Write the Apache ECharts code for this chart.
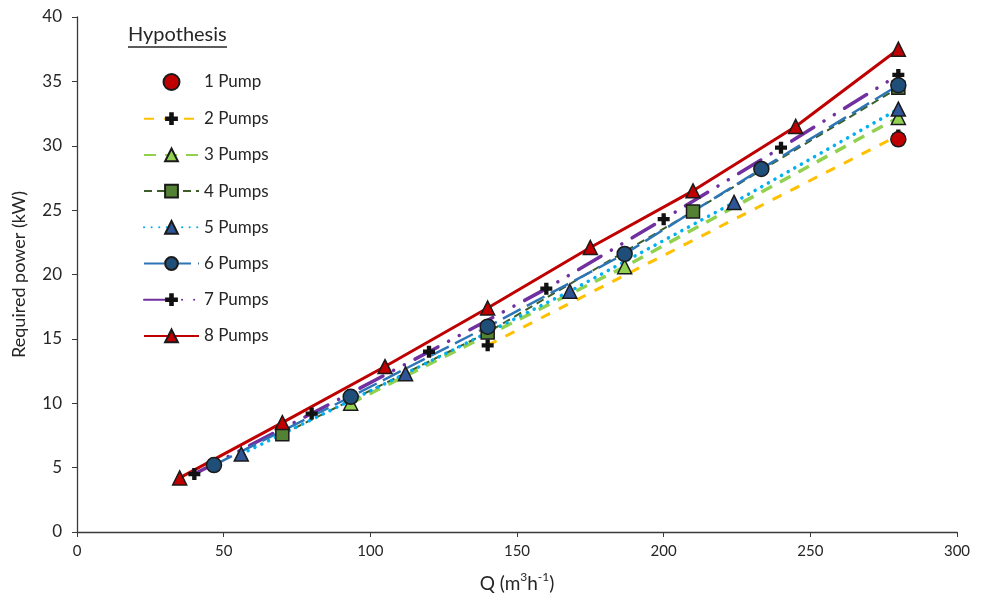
<!DOCTYPE html>
<html>
<head>
<meta charset="utf-8">
<script src="https://cdn.jsdelivr.net/npm/echarts@6/dist/echarts.min.js"></script>
<style>html,body{margin:0;padding:0;background:#fff}#c{width:986px;height:602px}</style>
</head>
<body>
<div id="c"></div>
<script>
// ---- data ----
const seriesNames = ['1 Pump','2 Pumps','3 Pumps','4 Pumps','5 Pumps','6 Pumps','7 Pumps','8 Pumps'];
const q1 = [280];                                   const p1 = [30.5];
const q2 = [140, 280];                              const p2 = [14.5, 30.8];
const q3 = [93.3, 186.7, 280];                      const p3 = [10.0, 20.6, 32.2];
const q4 = [70, 140, 210, 280];                     const p4 = [7.6, 15.5, 24.9, 34.5];
const q5 = [56, 112, 168, 224, 280];                const p5 = [6.05, 12.3, 18.7, 25.6, 32.85];
const q6 = [46.7, 93.3, 140, 186.7, 233.3, 280];    const p6 = [5.2, 10.5, 15.95, 21.6, 28.2, 34.7];
const q7 = [40, 80, 120, 160, 200, 240, 280];       const p7 = [4.5, 9.2, 14.0, 18.9, 24.3, 29.85, 35.5];
const q8 = [35, 70, 105, 140, 175, 210, 245, 280];  const p8 = [4.2, 8.5, 12.85, 17.4, 22.1, 26.5, 31.5, 37.5];
const xTicks = [0, 50, 100, 150, 200, 250, 300];
const yTicks = [0, 5, 10, 15, 20, 25, 30, 35, 40];

const FONT = 'Lato';
const TXT = '#262626';
const BORDER = '#1a1a1a';
const PLUS = 'path://M3.2,0H6.8V3.2H10V6.8H6.8V10H3.2V6.8H0V3.2H3.2Z';

function pts(q, p) { return q.map((v, i) => [v, p[i]]); }

function lineSeries(name, q, p, lineStyle, symbol, size, fill, border) {
  return {
    name, type: 'line', data: pts(q, p),
    symbol, symbolSize: size, showAllSymbol: true,
    lineStyle: lineStyle,
    itemStyle: { color: fill, borderColor: border, borderWidth: border ? 1.5 : 0, opacity: 1 },
    emphasis: { disabled: true }, animation: false
  };
}

const s1 = {
  name: seriesNames[0], type: 'scatter', data: pts(q1, p1), symbol: 'circle', symbolSize: 15,
  itemStyle: { color: '#C00000', borderColor: BORDER, borderWidth: 1.5, opacity: 1 }, z: 5, animation: false
};
const s2 = lineSeries(seriesNames[1], q2, p2, { color: '#FFC000', width: 3, type: [10, 10] }, PLUS, 12, '#111', null);
const s3 = lineSeries(seriesNames[2], q3, p3, { color: '#92D050', width: 3.5, type: [12, 9] }, 'triangle', 14, '#92D050', BORDER);
const s4 = lineSeries(seriesNames[3], q4, p4, { color: '#3B5E2B', width: 2, type: [8, 5] }, 'rect', 13, '#548235', BORDER);
const s5 = lineSeries(seriesNames[4], q5, p5, { color: '#00B0F0', width: 3.5, type: [0.1, 7.5], cap: 'round' }, 'triangle', 14, '#2F5597', BORDER);
const s6 = lineSeries(seriesNames[5], q6, p6, { color: '#2E75B6', width: 2.5, type: [20, 7] }, 'circle', 15, '#1F4E79', BORDER);
const s7 = lineSeries(seriesNames[6], q7, p7, { color: '#7030A0', width: 3.5, type: [26, 12, 0.1, 12, 0.1, 12], cap: 'round' }, PLUS, 12, '#111', null);
const s8 = lineSeries(seriesNames[7], q8, p8, { color: '#C00000', width: 3 }, 'triangle', 14, '#C00000', BORDER);

const chart = echarts.init(document.getElementById('c'), null, { renderer: 'canvas' });
chart.setOption({
  animation: false,
  textStyle: { fontFamily: FONT },
  grid: { left: 77, right: 29, top: 17, bottom: 70, containLabel: false },
  xAxis: {
    type: 'value', min: xTicks[0], max: xTicks[xTicks.length - 1], interval: 50,
    axisLine: { lineStyle: { color: '#3a3a3a', width: 1.3 } },
    axisTick: { show: true, length: 5, lineStyle: { color: '#3a3a3a' } },
    splitLine: { show: false },
    axisLabel: { color: TXT, fontSize: 15, fontFamily: FONT, margin: 12 },
    name: '{a|Q (m}{s|3}{a|h}{s|-1}{a|)}', nameLocation: 'middle', nameGap: 39,
    nameTextStyle: {
      rich: {
        a: { fontSize: 19, fontFamily: FONT, color: TXT, lineHeight: 22, verticalAlign: 'bottom' },
        s: { fontSize: 12, fontFamily: FONT, color: TXT, lineHeight: 22, verticalAlign: 'top' }
      }
    }
  },
  yAxis: {
    type: 'value', min: yTicks[0], max: yTicks[yTicks.length - 1], interval: 5,
    axisLine: { show: true, lineStyle: { color: '#3a3a3a', width: 1.3 } },
    axisTick: { show: true, length: 5, lineStyle: { color: '#3a3a3a' } },
    splitLine: { show: false },
    axisLabel: { color: TXT, fontSize: 17, fontFamily: FONT, margin: 15 },
    name: 'Required power (kW)', nameLocation: 'middle', nameGap: 49, nameRotate: 90,
    nameTextStyle: { color: TXT, fontSize: 18, fontFamily: FONT }
  },
  legend: {
    orient: 'vertical', left: 143, top: 73, padding: 0,
    itemWidth: 55, itemHeight: 16, itemGap: 19.2,
    data: seriesNames,
    textStyle: { color: TXT, fontSize: 17, fontFamily: FONT, lineHeight: 16, height: 16 },
    selectedMode: false
  },
  graphic: [
    { type: 'text', left: 128, top: 25, style: { text: 'Hypothesis', fill: TXT, fontSize: 20, fontFamily: FONT } },
    { type: 'line', shape: { x1: 128, y1: 47, x2: 227, y2: 47 }, style: { stroke: TXT, lineWidth: 1.3 } }
  ],
  series: [s2, s3, s4, s5, s7, s6, s8, s1]
});
</script>
</body>
</html>
